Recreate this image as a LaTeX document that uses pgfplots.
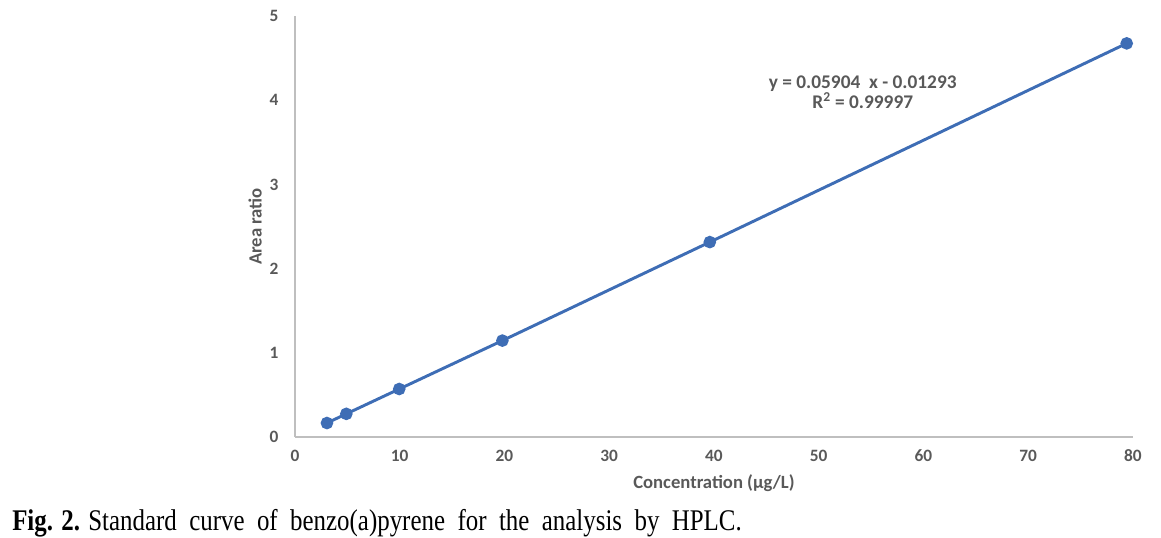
\documentclass[border=0pt]{standalone}
\usepackage{fontspec}
\setmainfont{Liberation Serif}
\newfontfamily\chartfont{Carlito}
\usepackage{pgfplots}
\pgfplotsset{compat=1.18}
\definecolor{tickgray}{HTML}{595959}
\definecolor{axgray}{HTML}{BFBFBF}
\definecolor{serblue}{HTML}{3E6DB5}
\begin{document}
\begin{tikzpicture}[x=0.75pt,y=0.75pt]
\begin{axis}[
  scale only axis, width=838*0.75pt, height=421*0.75pt,
  xmin=0, xmax=80, ymin=0, ymax=5,
  xtick={0,10,...,80}, ytick={0,1,...,5},
  axis x line*=bottom, axis y line*=left,
  axis line style={draw=axgray, line width=1.2pt, -},
  tick style={draw=none},
  ticklabel style={font=\chartfont\bfseries\fontsize{13}{15}\selectfont, text=tickgray},
  /pgf/number format/assume math mode=true,
  xticklabel style={yshift=-6pt},
  yticklabel style={xshift=-9pt},
  xlabel={Concentration (µg/L)},
  ylabel={Area ratio},
  label style={font=\chartfont\bfseries\fontsize{14}{16}\selectfont, text=tickgray},
  xlabel style={yshift=-3pt},
  ylabel style={yshift=-1pt},
  clip=false,
]
\addplot[color=serblue, line width=2.2pt, mark=*, mark size=3.6pt, mark options={fill=serblue, draw=serblue}]
coordinates {(3.05,0.166) (4.9,0.275) (9.95,0.57) (19.8,1.145) (39.6,2.315) (79.4,4.675)};
\node[font=\chartfont\bfseries\fontsize{14.5}{17}\selectfont, text=tickgray, align=center] at (axis cs:54.2,4.09) {y = 0.05904\ \ x - 0.01293\\[-2pt] R\textsuperscript{2} = 0.99997};
\coordinate (O) at (axis cs:0,0);
\end{axis}
\pgfresetboundingbox
\useasboundingbox ([shift={(-295,-100)}]O) rectangle ([shift={(866,437)}]O);
\node[anchor=base west, inner sep=0pt] at ([shift={(-283,-93)}]O) {\scalebox{0.83}[1]{\fontsize{22.5}{24}\selectfont\textbf{Fig. 2.} Standard\ \ curve\ \ of\ \ benzo(a)pyrene\ \ for\ \ the\ \ analysis\ \ by\ \ HPLC.}};
\end{tikzpicture}
\end{document}
